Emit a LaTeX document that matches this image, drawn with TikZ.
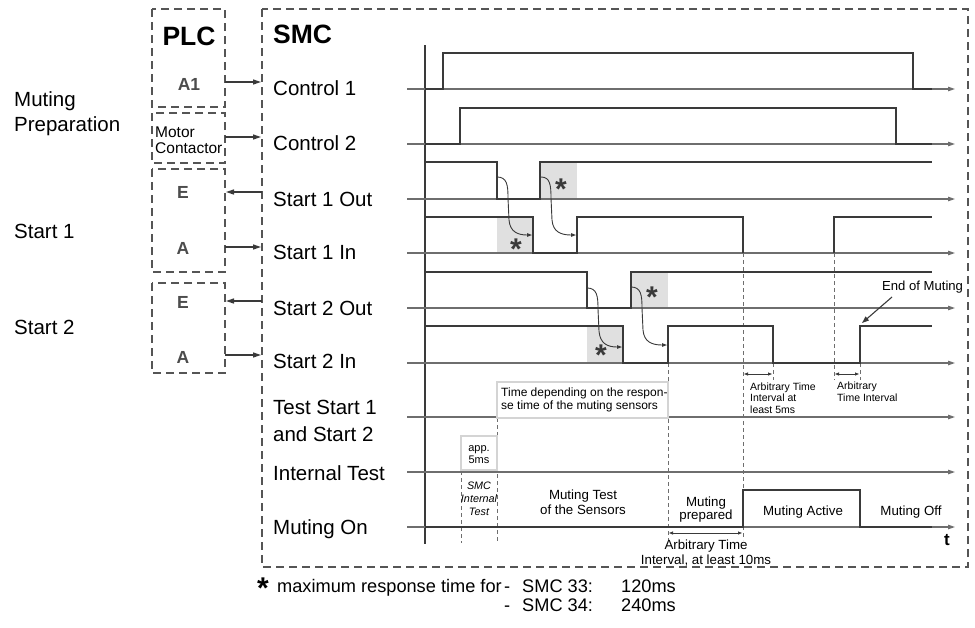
\documentclass[tikz,border=0pt]{standalone}
\usepackage{fontspec}
\setmainfont{Liberation Sans}
\usetikzlibrary{arrows.meta}
\definecolor{sigc}{HTML}{3A3A3A}
\definecolor{basec}{HTML}{6E6E6E}
\definecolor{shadec}{HTML}{E0E0E0}
\definecolor{boxc}{HTML}{555555}
\definecolor{tboxc}{HTML}{D4D4D4}
\definecolor{letc}{HTML}{4C4C4C}
\begin{document}
\begin{tikzpicture}[x=1pt,y=-1pt,
  dbox/.style={draw=boxc, line width=1.5pt, dash pattern=on 8pt off 5pt},
  sigl/.style={draw=sigc, line width=2pt, line join=miter},
  basel/.style={draw=basec, line width=1.1pt, -{Triangle[length=7pt,width=4.5pt]}},
  shd/.style={fill=shadec, draw=none},
  conn/.style={draw=sigc, line width=1.3pt, -{Triangle[length=8pt,width=5pt]}},
  curv/.style={draw=sigc, line width=0.9pt, -{Triangle[length=5pt,width=3.5pt]}},
  vdash/.style={draw=basec, line width=0.8pt, dash pattern=on 4pt off 3pt},
  dar/.style={draw=sigc, line width=0.8pt, {Triangle[length=4pt,width=3pt]}-{Triangle[length=4pt,width=3pt]}},
  lab/.style={anchor=base west, inner sep=0pt, font=\fontsize{20.5}{24}\selectfont},
  plcl/.style={anchor=base, inner sep=0pt, text=letc, font=\bfseries\fontsize{17.5}{20}\selectfont},
  small/.style={anchor=base west, inner sep=0pt, font=\fontsize{10.5}{12}\selectfont},
  smallc/.style={anchor=base, inner sep=0pt, font=\fontsize{11}{12}\selectfont},
  mid/.style={anchor=base, inner sep=0pt, font=\fontsize{13.3}{16}\selectfont},
  star/.style={anchor=base, inner sep=0pt, text=sigc, font=\bfseries\fontsize{30}{30}\selectfont},
  foot/.style={anchor=base west, inner sep=0pt, font=\fontsize{18.2}{22}\selectfont}
]
\useasboundingbox (0,0) rectangle (975,627);

% ---------- boxes ----------
\draw[dbox] (152,9) rectangle (225,107);
\draw[dbox] (152,113) rectangle (225,163);
\draw[dbox] (152,169) rectangle (225,272);
\draw[dbox] (152,283) rectangle (225,373);
\draw[dbox] (262,9) rectangle (968,567);

\node[anchor=base, inner sep=0pt, font=\bfseries\fontsize{26.5}{30}\selectfont] (plc) at (189,45) {PLC};
\node[anchor=base west, inner sep=0pt, font=\bfseries\fontsize{26.5}{30}\selectfont] (smc) at (273,43.5) {SMC};

\node[plcl] (a1) at (189,90) {A1};
\node[anchor=base west, inner sep=0pt, font=\fontsize{15.5}{18}\selectfont] (mot) at (155,137) {Motor};
\node[anchor=base west, inner sep=0pt, font=\fontsize{15.5}{18}\selectfont] (cont) at (155,153) {Contactor};
\node[plcl] (e1) at (183,198.5) {E};
\node[plcl] (aa1) at (183,254) {A};
\node[plcl] (e2) at (183,308) {E};
\node[plcl] (aa2) at (183,363) {A};

% left labels
\node[lab] (mp1) at (14,106) {Muting};
\node[lab] (mp2) at (14,131.5) {Preparation};
\node[lab] (st1) at (14,238) {Start 1};
\node[lab] (st2) at (14,334) {Start 2};

% SMC labels
\node[lab] (lc1) at (273,95) {Control 1};
\node[lab] (lc2) at (273,150) {Control 2};
\node[lab] (ls1o) at (273,206) {Start 1 Out};
\node[lab] (ls1i) at (273,259) {Start 1 In};
\node[lab] (ls2o) at (273,315) {Start 2 Out};
\node[lab] (ls2i) at (273,368) {Start 2 In};
\node[lab] (lts) at (273,414) {Test Start 1};
\node[lab] (lts2) at (273,441) {and Start 2};
\node[lab] (lit) at (273,480) {Internal Test};
\node[lab] (lmo) at (273,534) {Muting On};

% PLC <-> SMC connectors
\coordinate (pa1) at (225,82);  \coordinate (sa1) at (261,82);
\coordinate (pmc) at (225,137); \coordinate (smc2) at (261,137);
\coordinate (pe1) at (226,192); \coordinate (se1) at (262,192);
\coordinate (pb1) at (225,247); \coordinate (sb1) at (261,247);
\coordinate (pe2) at (226,301); \coordinate (se2) at (262,301);
\coordinate (pb2) at (225,355); \coordinate (sb2) at (261,355);
\draw[conn] (pa1) -- (sa1);
\draw[conn] (pmc) -- (smc2);
\draw[conn] (se1) -- (pe1);
\draw[conn] (pb1) -- (sb1);
\draw[conn] (se2) -- (pe2);
\draw[conn] (pb2) -- (sb2);

% ---------- shading ----------
\fill[shd] (540,162) rectangle (577,199);
\fill[shd] (497,217) rectangle (533,253);
\fill[shd] (631,272) rectangle (668,308);
\fill[shd] (587,326) rectangle (623,363);

% ---------- axis and baselines ----------
\draw[draw=sigc, line width=1.1pt] (425,45) -- (425,544);
\foreach \yy in {89,144,199,253,308,363,417,472,527}
  \draw[basel] (407,\yy) -- (955,\yy);

% ---------- dashed guides ----------
\draw[vdash] (743,253) -- (743,540);
\draw[vdash] (834,253) -- (834,380);
\draw[vdash] (773,363) -- (773,380);
\draw[vdash] (860,363) -- (860,380);
\draw[vdash] (668,363) -- (668,540);
\draw[vdash] (461,471) -- (461,543);
\draw[vdash] (497,418) -- (497,543);

% ---------- signals ----------
\draw[sigl] (425,89) -- (443,89) -- (443,53) -- (913,53) -- (913,89) -- (932,89);
\draw[sigl] (425,144) -- (460,144) -- (460,108) -- (896,108) -- (896,144) -- (932,144);
\draw[sigl] (425,162) -- (497,162) -- (497,199) -- (540,199) -- (540,162) -- (932,162);
\draw[sigl] (425,217) -- (533,217) -- (533,253) -- (577,253) -- (577,217) -- (743,217) -- (743,253);
\draw[sigl] (834,253) -- (834,217) -- (932,217);
\draw[sigl] (425,272) -- (587,272) -- (587,308) -- (631,308) -- (631,272) -- (932,272);
\draw[sigl] (425,326) -- (623,326) -- (623,363) -- (668,363) -- (668,326) -- (773,326) -- (773,363) -- (860,363) -- (860,326) -- (932,326);
\draw[sigl] (425,527) -- (743,527) -- (743,490) -- (860,490) -- (860,527) -- (932,527);

% asterisks
\node[star] (s1) at (561,199) {*};
\node[star] (s2) at (516,259) {*};
\node[star] (s3) at (652,307) {*};
\node[star] (s4) at (601,365) {*};

% curved arrows
\coordinate (k1a) at (497,177); \coordinate (k1b) at (532,235);
\coordinate (k2a) at (541,177); \coordinate (k2b) at (576,235);
\coordinate (k3a) at (587,288); \coordinate (k3b) at (622,347);
\coordinate (k4a) at (631,287); \coordinate (k4b) at (667,345);
\draw[curv] (k1a) .. controls (507,177) and (508,185) .. (508,198) -- (509,220) .. controls (510,232) and (518,235) .. (k1b);
\draw[curv] (k2a) .. controls (550,177) and (551,185) .. (551,198) -- (552,220) .. controls (553,232) and (561,235) .. (k2b);
\draw[curv] (k3a) .. controls (597,288) and (598,296) .. (598,309) -- (599,331) .. controls (600,344) and (608,347) .. (k3b);
\draw[curv] (k4a) .. controls (641,287) and (642,295) .. (642,308) -- (643,330) .. controls (644,342) and (652,345) .. (k4b);

% ---------- annotation boxes ----------
\draw[draw=tboxc, line width=2.8pt, fill=white] (497,382) rectangle (668,418);
\node[anchor=base west, inner sep=0pt, font=\fontsize{12}{14}\selectfont] (td1) at (501,396) {Time depending on the respon-};
\node[anchor=base west, inner sep=0pt, font=\fontsize{12}{14}\selectfont] (td2) at (501,409.5) {se time of the muting sensors};

\draw[draw=tboxc, line width=2.8pt, fill=white] (461,436) rectangle (497,470);
\node[smallc] (ap1) at (479,451) {app.};
\node[smallc] (ap2) at (479,463.5) {5ms};

\node[anchor=base, inner sep=0pt, font=\itshape\fontsize{10.8}{12}\selectfont] (si1) at (479,489.5) {SMC};
\node[anchor=base, inner sep=0pt, font=\itshape\fontsize{10.8}{12}\selectfont] (si2) at (479,502.5) {Internal};
\node[anchor=base, inner sep=0pt, font=\itshape\fontsize{10.8}{12}\selectfont] (si3) at (479,515.5) {Test};

\node[mid] (mt1) at (583,499) {Muting Test};
\node[mid] (mt2) at (583,514) {of the Sensors};
\node[mid] (mpr1) at (706,506) {Muting};
\node[mid] (mpr2) at (706,519.5) {prepared};
\node[mid] (mac) at (803,515) {Muting Active};
\node[mid] (moff) at (911,515) {Muting Off};
\node[anchor=base, inner sep=0pt, font=\bfseries\fontsize{17}{20}\selectfont] (tt) at (947,545) {t};

% interval arrows
\coordinate (i1a) at (744,374); \coordinate (i1b) at (772,374);
\coordinate (i2a) at (835,374); \coordinate (i2b) at (859,374);
\coordinate (i3a) at (669,533); \coordinate (i3b) at (742,533);
\draw[dar] (i1a) -- (i1b);
\draw[dar] (i2a) -- (i2b);
\draw[dar] (i3a) -- (i3b);

\node[small] (ar1) at (750,390) {Arbitrary Time};
\node[small] (ar2) at (750,401.5) {Interval at};
\node[small] (ar3) at (750,413) {least 5ms};
\node[small] (ar4) at (837,389.5) {Arbitrary};
\node[small] (ar5) at (837,401) {Time Interval};
\node[mid] (ar6) at (706,549) {Arbitrary Time};
\node[mid] (ar7) at (706,564) {Interval, at least 10ms};

% end of muting
\node[anchor=base west, inner sep=0pt, font=\fontsize{13.1}{16}\selectfont] (eom) at (882,290) {End of Muting};
\coordinate (eomt) at (862,323);
\draw[draw=sigc, line width=1.1pt, -{Triangle[length=7pt,width=5pt]}] (892,297) -- (eomt);

% ---------- footnote ----------
\node[anchor=base, inner sep=0pt, font=\bfseries\fontsize{30}{30}\selectfont] (fst) at (263,598) {*};
\node[foot] (f1) at (277,592) {maximum response time for};
\node[foot] (f2) at (504,592) {-};
\node[foot] (f3) at (522,592) {SMC 33:};
\node[foot] (f4) at (621,592) {120ms};
\node[foot] (f5) at (504,611) {-};
\node[foot] (f6) at (522,611) {SMC 34:};
\node[foot] (f7) at (621,611) {240ms};
\end{tikzpicture}
\end{document}
